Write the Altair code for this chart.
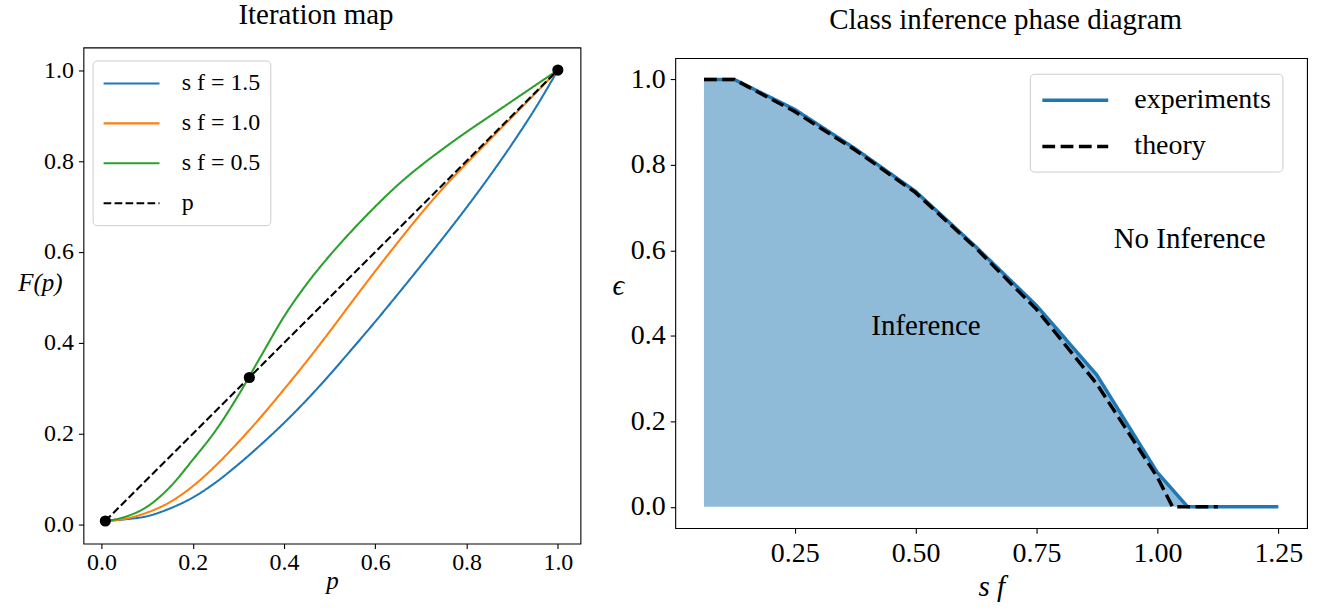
import altair as alt
import pandas as pd

# ---------------- Left panel: iteration map ----------------
p_grid = [0.0085, 0.05, 0.10, 0.15, 0.20, 0.25, 0.30, 0.35, 0.40, 0.45, 0.50,
          0.55, 0.60, 0.65, 0.70, 0.75, 0.80, 0.85, 0.90, 0.95, 1.00]
F_sf_15 = [0.0085, 0.012, 0.019, 0.036, 0.060, 0.093, 0.133, 0.177, 0.224, 0.275, 0.330,
           0.388, 0.447, 0.508, 0.570, 0.633, 0.698, 0.766, 0.838, 0.915, 1.000]
F_sf_10 = [0.0085, 0.013, 0.027, 0.050, 0.085, 0.130, 0.182, 0.238, 0.298, 0.360, 0.425,
           0.492, 0.558, 0.622, 0.684, 0.742, 0.795, 0.846, 0.897, 0.948, 1.000]
F_sf_05 = [0.0085, 0.017, 0.040, 0.083, 0.143, 0.207, 0.285, 0.372, 0.458, 0.530, 0.592,
           0.648, 0.700, 0.748, 0.790, 0.828, 0.864, 0.898, 0.932, 0.966, 1.000]
diag_p = [0.0085, 1.0]
fixed_points = [0.0085, 0.324, 1.0]
series_labels = ["s f = 1.5", "s f = 1.0", "s f = 0.5", "p"]
series_colors = ["#1f77b4", "#ff7f0e", "#2ca02c", "black"]

# ---------------- Right panel: phase diagram ----------------
sf_exp = [0.0625, 0.125, 0.25, 0.375, 0.5, 0.625, 0.75, 0.875, 1.0, 1.0625, 1.125, 1.1875, 1.25]
eps_exp = [1.0, 1.0, 0.930, 0.838, 0.738, 0.608, 0.471, 0.308, 0.080, 0.0, 0.0, 0.0, 0.0]
sf_theory = [0.0625, 0.125, 0.25, 0.375, 0.5, 0.625, 0.75, 0.875, 1.0, 1.03125, 1.125]
eps_theory = [1.0, 1.0, 0.925, 0.835, 0.735, 0.605, 0.462, 0.287, 0.069, 0.0, 0.0]
kind_labels = ["experiments", "theory"]
region_labels = ["Inference", "No Inference"]
region_sf = [0.5215, 1.0666]
region_eps = [0.423, 0.626]

SERIF = "Liberation Serif, DejaVu Serif, serif"

# ---- tables ----
rows = []
for lab, vals in zip(series_labels[:3], [F_sf_15, F_sf_10, F_sf_05]):
    for p, v in zip(p_grid, vals):
        rows.append({"p": p, "F": v, "series": lab})
for p in diag_p:
    rows.append({"p": p, "F": p, "series": "p"})
df_curves = pd.DataFrame(rows)
df_fixed = pd.DataFrame({"p": fixed_points, "F": fixed_points})

df_phase = pd.concat([
    pd.DataFrame({"sf": sf_exp, "eps": eps_exp, "kind": kind_labels[0]}),
    pd.DataFrame({"sf": sf_theory, "eps": eps_theory, "kind": kind_labels[1]}),
], ignore_index=True)
df_text = pd.DataFrame({"sf": region_sf, "eps": region_eps, "label": region_labels})

# ---- left chart ----
lx = alt.Scale(domain=[-0.0395, 1.0495], nice=False, zero=False)
ly = alt.Scale(domain=[-0.0411, 1.0496], nice=False, zero=False)
left_xaxis = alt.Axis(values=[0, 0.2, 0.4, 0.6, 0.8, 1.0], format=".1f", labelFontSize=24,
                      labelPadding=2, title="p", titleFontSize=25, titleFontStyle="italic",
                      titleBaseline="alphabetic", titleY=45.5)
left_yaxis = alt.Axis(values=[0, 0.2, 0.4, 0.6, 0.8, 1.0], format=".1f", labelFontSize=24,
                      labelPadding=5, title="F(p)", titleFontSize=25, titleFontStyle="italic",
                      titleAngle=0, titleAlign="right", titleBaseline="alphabetic",
                      titleX=-21.4, titleY=243.3)
left_legend = alt.Legend(title=None, orient="none", legendX=9.2, legendY=34,
                         symbolType="M-1,0H3.667", symbolSize=576, symbolStrokeWidth=2.08,
                         labelFontSize=24, labelFont=SERIF, labelOffset=52.7,
                         rowPadding=14, padding=9.5, fillColor="white",
                         strokeColor="#cccccc", cornerRadius=4, labelLimit=0)

curves = alt.Chart(df_curves).mark_line(strokeWidth=2.08, interpolate="monotone").encode(
    x=alt.X("p:Q", scale=lx, axis=left_xaxis),
    y=alt.Y("F:Q", scale=ly, axis=left_yaxis),
    color=alt.Color("series:N", scale=alt.Scale(domain=series_labels, range=series_colors),
                    legend=left_legend),
    strokeDash=alt.StrokeDash("series:N",
                              scale=alt.Scale(domain=series_labels,
                                              range=[[1, 0], [1, 0], [1, 0], [7.7, 3.3]]),
                              legend=left_legend),
    order=alt.Order("p:Q"),
)
points = alt.Chart(df_fixed).mark_circle(size=125, color="black", opacity=1).encode(
    x=alt.X("p:Q", scale=lx), y=alt.Y("F:Q", scale=ly)
)
left = alt.layer(curves, points).properties(width=498, height=497)

# ---- right chart ----
rx = alt.Scale(domain=[0.003125, 1.309375], nice=False, zero=False)
ry = alt.Scale(domain=[-0.05, 1.05], nice=False, zero=False)
right_xaxis = alt.Axis(values=[0.25, 0.5, 0.75, 1.0, 1.25], format=".2f", labelFontSize=28,
                       labelPadding=6, title="s f", titleFontSize=29, titleFontStyle="italic",
                       titleBaseline="alphabetic", titleY=67.5)
right_yaxis = alt.Axis(values=[0, 0.2, 0.4, 0.6, 0.8, 1.0], format=".1f", labelFontSize=28,
                       labelPadding=5, title="ϵ", titleFontSize=29, titleFontStyle="italic",
                       titleAngle=0, titleAlign="right", titleBaseline="alphabetic",
                       titleX=-51.7, titleY=236.7)
right_legend = alt.Legend(title=None, orient="none", legendX=355.3, legendY=47.3,
                          symbolType="M-1,0H3.714", symbolSize=784, symbolStrokeWidth=3.47,
                          labelFontSize=28, labelFont=SERIF, labelOffset=62.2,
                          rowPadding=16.4, padding=10.5, fillColor="white",
                          strokeColor="#cccccc", cornerRadius=4, labelLimit=0)

base_r = alt.Chart(df_phase)
fill = base_r.transform_filter(alt.datum.kind == "experiments").mark_area(
    color="#1f77b4", opacity=0.5).encode(
    x=alt.X("sf:Q", scale=rx, axis=right_xaxis),
    y=alt.Y("eps:Q", scale=ry, axis=right_yaxis),
)
lines_r = base_r.mark_line(strokeWidth=3.47).encode(
    x=alt.X("sf:Q", scale=rx),
    y=alt.Y("eps:Q", scale=ry),
    color=alt.Color("kind:N", scale=alt.Scale(domain=kind_labels, range=["#1f77b4", "black"]),
                    legend=right_legend),
    strokeDash=alt.StrokeDash("kind:N",
                              scale=alt.Scale(domain=kind_labels, range=[[1, 0], [12.8, 5.5]]),
                              legend=right_legend),
    order=alt.Order("sf:Q"),
)
texts = alt.Chart(df_text).mark_text(fontSize=29, font=SERIF, baseline="middle",
                                     align="center", color="black").encode(
    x=alt.X("sf:Q", scale=rx), y=alt.Y("eps:Q", scale=ry), text="label:N"
)
right = alt.layer(fill, lines_r, texts).properties(width=633, height=471)

# zero-size header cells carrying the panel titles
df_header = pd.DataFrame({"v": [0]})
header_l = alt.Chart(df_header).mark_point(opacity=0, size=0).properties(
    width=0, height=0,
    title=alt.TitleParams("Iteration map", fontSize=29, font=SERIF, fontWeight="normal",
                          offset=-3.4, dx=223),
)
header_r = alt.Chart(df_header).mark_point(opacity=0, size=0).properties(
    width=0, height=0,
    title=alt.TitleParams("Class inference phase diagram", fontSize=29, font=SERIF,
                          fontWeight="normal", offset=-8.5, dx=321),
)

left_n = alt.vconcat(header_l, left, spacing=0)
right_n = alt.vconcat(header_r, right, spacing=10.6)

chart = alt.hconcat(left_n, right_n, spacing=30).resolve_scale(
    color="independent", strokeDash="independent"
).resolve_legend(color="independent", strokeDash="independent").properties(
    padding={"left": 16.6, "top": 0, "right": 17, "bottom": 5}
).configure_view(stroke="black", strokeWidth=1.1).configure_axis(
    domain=False, grid=False, ticks=True, tickColor="black", tickWidth=1.1, tickSize=5,
    labelColor="black", labelFont=SERIF, titleFont=SERIF, titleColor="black",
    titleFontWeight="normal", labelFlush=False, labelOverlap=False
).configure_title(color="black", anchor="middle")

chart.save("out.html", embed_options={"renderer": "svg", "actions": False})
